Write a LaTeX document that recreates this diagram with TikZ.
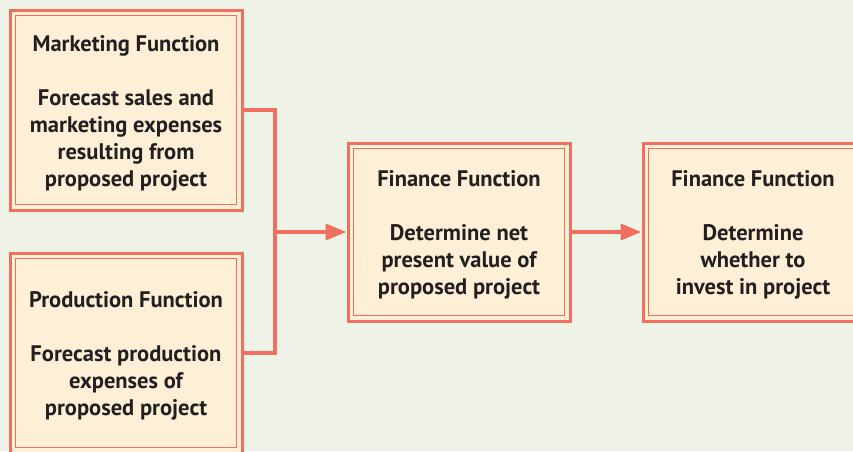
\documentclass[tikz,border=0pt]{standalone}
\usepackage{fontspec}
\setmainfont{PT Sans}
\usetikzlibrary{arrows.meta}
\definecolor{bgc}{RGB}{239,242,230}
\definecolor{boxline}{RGB}{240,112,96}
\definecolor{boxfill}{RGB}{253,240,214}
\definecolor{txt}{RGB}{35,31,32}
\newcommand{\topstrut}{\rule{0pt}{22pt}}
\tikzset{
  fnbox/.style={draw=boxline, line width=3pt, fill=boxfill, text=txt,
    font=\fontsize{22.5}{27}\selectfont\bfseries, align=center, inner sep=0pt,
    minimum width=#1, 
    path picture={\draw[boxline, line width=1.3pt]
      ([shift={(5.5pt,-5.5pt)}]path picture bounding box.north west) rectangle
      ([shift={(-5.5pt,5.5pt)}]path picture bounding box.south east);}},
  conn/.style={draw=boxline, line width=4pt},
  tip/.style={-{Triangle[length=21pt,width=16pt]}}
}
\begin{document}
\begin{tikzpicture}[x=1pt,y=-1pt]
\useasboundingbox (0,0) rectangle (853,451);
\clip (0,0) rectangle (853,451);
\fill[bgc] (0,0) rectangle (853,451);
\node[fnbox=232pt, minimum height=200pt] (m) at (126,110)
  {\topstrut Marketing Function\\[27pt]Forecast sales and\\marketing expenses\\resulting from\\proposed project};
\node[fnbox=232pt, minimum height=200pt] (p) at (126,353)
  {\topstrut Production Function\\[27pt]Forecast production\\expenses of\\proposed project};
\node[fnbox=222pt, minimum height=178pt] (f1) at (459,232)
  {\topstrut Finance Function\\[27pt]Determine net\\present value of\\proposed project};
\node[fnbox=220pt, minimum height=178pt] (f2) at (753,232)
  {\topstrut Finance Function\\[27pt]Determine\\whether to\\invest in project};
\coordinate (j) at (275,232);
\draw[conn] (m.east) -| (j) |- (p.east);
\draw[conn, tip] (j) -- (f1.west);
\draw[conn, tip] (f1.east) -- (f2.west);
\end{tikzpicture}
\end{document}
